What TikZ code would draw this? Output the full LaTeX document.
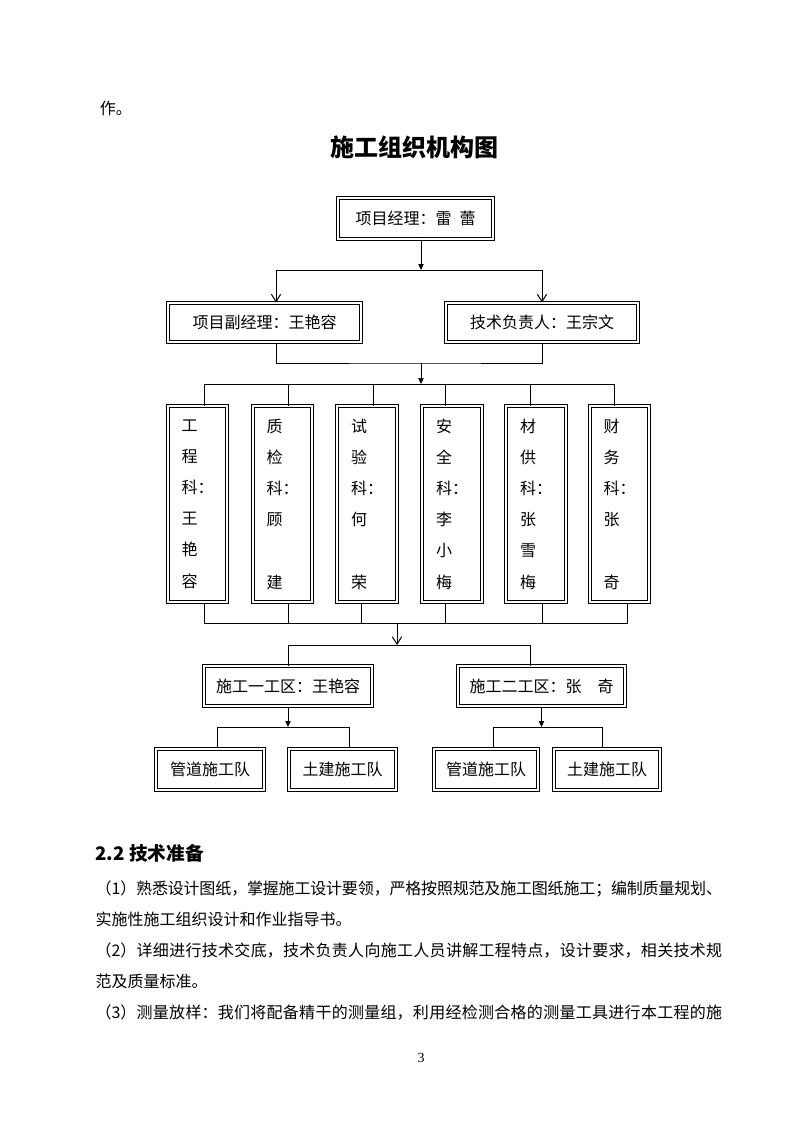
\documentclass[tikz,border=0pt]{standalone}
\usepackage{fontspec}
\setmainfont{Liberation Serif}
\newfontfamily\cjk{Noto Sans CJK SC}
\usetikzlibrary{arrows.meta,calc}

\tikzset{every picture/.style={line width=0.75pt}}
\tikzset{
  box/.style={draw,double,double distance=1.5pt,inner sep=0pt,align=center,font=\cjk\fontsize{12}{23.4}\selectfont},
  tallbox/.style={box,align=left,minimum width=44.3pt,minimum height=147pt},
  tri/.style={-{Triangle[width=4pt,length=4.5pt]}},
  vee/.style={-{Straight Barb[width=7pt,length=5.5pt]}}
}

\begin{document}
\begin{tikzpicture}[x=0.75pt,y=0.75pt,yscale=-1,xscale=1]
\useasboundingbox (0,0) rectangle (794,1123);

% Text Node
\node [anchor=west,font=\cjk\fontsize{12}{14}\selectfont] (zuo) at (95,108) {作。};
% Text Node
\node [font=\cjk\bfseries\fontsize{18}{22}\selectfont] (title) at (414.5,147) {施工组织机构图};

%Shape: Rectangle [pm]
\node [box,minimum width=116.3pt,minimum height=30.8pt] (pm) at (415.5,218.5) {项目经理：雷\hspace{0.5em}蕾};
%Shape: Rectangle [vpm]
\node [box,minimum width=144.8pt,minimum height=29.3pt] (vpm) at (264.5,322.5) {项目副经理：王艳容};
%Shape: Rectangle [tech]
\node [box,minimum width=144pt,minimum height=29.3pt] (tech) at (542,322.5) {技术负责人：王宗文};

%Shape: Rectangle [departments]
\node [tallbox] (gc) at (197.5,504) {工\\程\\科：\\王\\艳\\容};
\node [tallbox] (zj) at (282.5,504) {质\\检\\科：\\顾\\\mbox{}\\建};
\node [tallbox] (sy) at (367,504) {试\\验\\科：\\何\\\mbox{}\\荣};
\node [tallbox] (aq) at (452,504) {安\\全\\科：\\李\\小\\梅};
\node [tallbox] (cg) at (536,504) {材\\供\\科：\\张\\雪\\梅};
\node [tallbox] (cw) at (619.5,504) {财\\务\\科：\\张\\\mbox{}\\奇};

%Shape: Rectangle [zones]
\node [box,minimum width=126pt,minimum height=30pt] (zone1) at (288,686) {施工一工区：王艳容};
\node [box,minimum width=125.3pt,minimum height=30pt] (zone2) at (541.5,686) {施工二工区：张　奇};

%Shape: Rectangle [teams]
\node [box,minimum width=81pt,minimum height=30.8pt] (t1) at (210,769.5) {管道施工队};
\node [box,minimum width=80.3pt,minimum height=30.8pt] (t2) at (342.5,769.5) {土建施工队};
\node [box,minimum width=78pt,minimum height=30.8pt] (t3) at (486,769.5) {管道施工队};
\node [box,minimum width=79.5pt,minimum height=30.8pt] (t4) at (607,769.5) {土建施工队};

% junctions
\coordinate (b1) at (421,270);
\coordinate (b2) at (421,363);
\coordinate (b3) at (421,384);
\coordinate (b4) at (397,623);
\coordinate (b5) at (397,645);
\coordinate (b6) at (288,727);
\coordinate (b7) at (541.5,727);

%Straight Lines
\draw [tri] (pm.south -| b1) -- (b1);
\draw [vee] (b1) -| ($(vpm.north)+(11.5,0)$);
\draw [vee] (b1) -| (tech.north);

%Straight Lines
\draw ($(vpm.south)+(11.5,0)$) |- (b2) -| (tech.south);
\draw [tri] (b2) -- (b3);

%Straight Lines
\draw ($(gc.north)+(6.5,0)$) |- (b3);
\draw ($(zj.north)+(5.5,0)$) |- (b3);
\draw ($(sy.north)+(6,0)$) |- (b3);
\draw ($(aq.north)+(-7,0)$) |- (b3);
\draw ($(cg.north)+(-6,0)$) |- (b3);
\draw ($(cw.north)+(-5.5,0)$) |- (b3);

%Straight Lines
\draw ($(gc.south)+(6.5,0)$) |- (b4);
\draw ($(zj.south)+(5.5,0)$) |- (b4);
\draw ($(sy.south)+(-6,0)$) |- (b4);
\draw ($(aq.south)+(-7,0)$) |- (b4);
\draw ($(cg.south)+(6,0)$) |- (b4);
\draw ($(cw.south)+(7.5,0)$) |- (b4);
\draw [vee] (b4) -- (b5);
\draw (b5) -| (zone1.north);
\draw (b5) -| ($(zone2.north)+(-11.5,0)$);

%Straight Lines
\draw [tri] (zone1.south) -- (b6);
\draw (b6) -| ($(t1.north)+(7,0)$);
\draw (b6) -| ($(t2.north)+(6.5,0)$);
\draw [tri] (zone2.south) -- (b7);
\draw (b7) -| ($(t3.north)+(7,0)$);
\draw (b7) -| ($(t4.north)+(-5,0)$);

% Text Node
\node [anchor=base west,inner sep=0pt,font=\cjk\bfseries\fontsize{14}{16}\selectfont] (sec) at (95,860) {2.2 技术准备};
% Text Node
\node [anchor=base west,inner sep=0pt,text width=470pt,align=justify,font=\cjk\fontsize{12}{23.4}\selectfont] (body) at (95,894) {\XeTeXlinebreaklocale "zh"\XeTeXlinebreakskip=0pt plus 3pt minus 0.3pt\relax
（1）熟悉设计图纸，掌握施工设计要领，严格按照规范及施工图纸施工；编制质量规划、\linebreak 实施性施工组织设计和作业指导书。\par
（2）详细进行技术交底，技术负责人向施工人员讲解工程特点，设计要求，相关技术规\linebreak 范及质量标准。\par
{\parfillskip=0pt （3）测量放样：我们将配备精干的测量组，利用经检测合格的测量工具进行本工程的施\par}};
% Text Node
\node [font=\fontsize{10.5}{12}\selectfont] (pg) at (421,1058) {3};

\end{tikzpicture}
\end{document}
